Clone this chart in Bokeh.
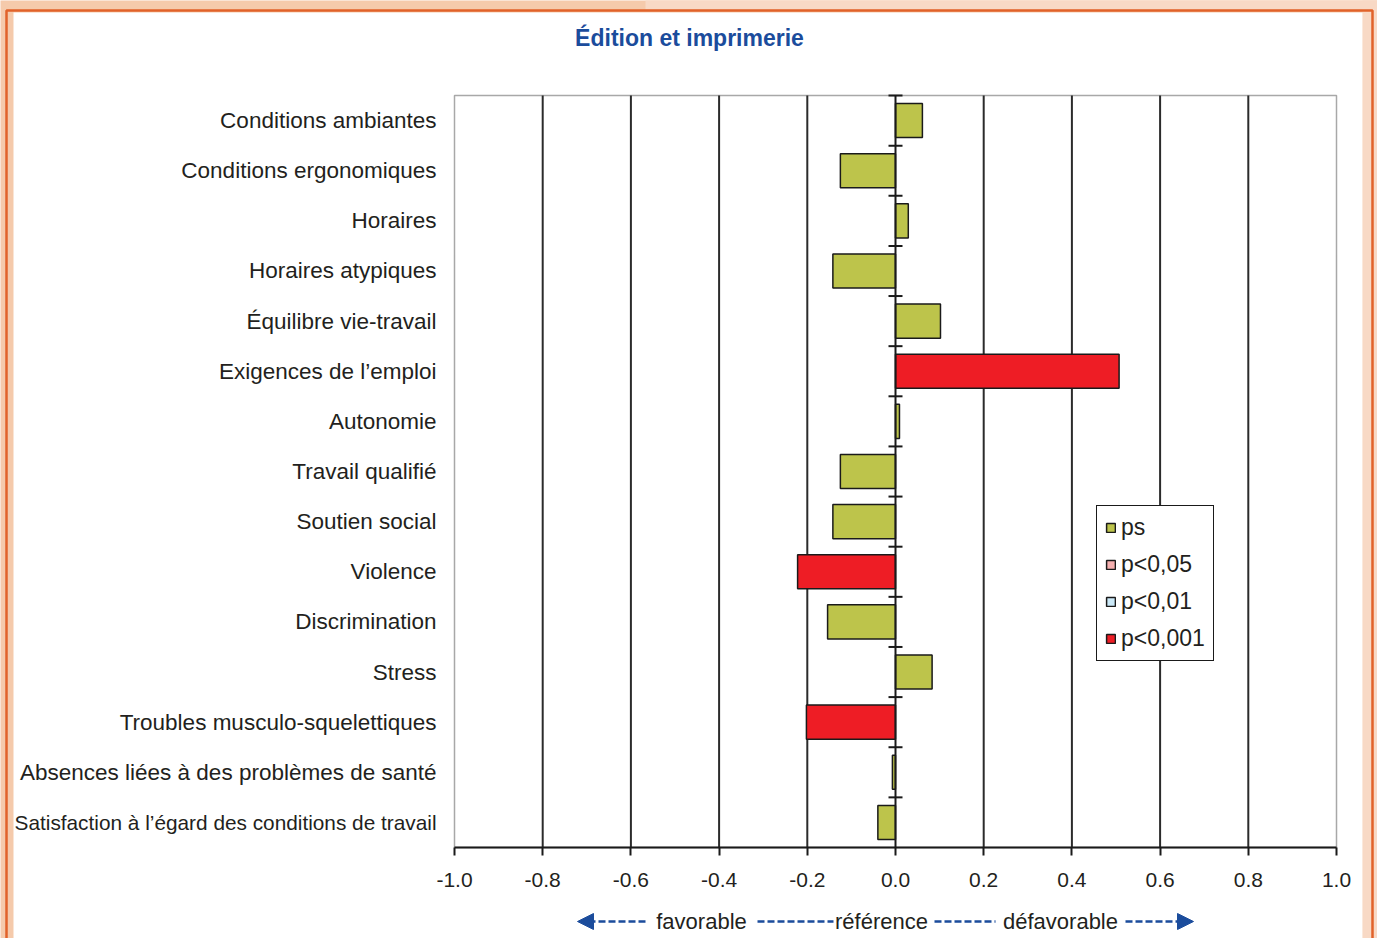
from bokeh.plotting import figure
from bokeh.models import (ColumnDataSource, FixedTicker, Legend, LegendItem,
                          Arrow, NormalHead, Range1d)
from bokeh.core.properties import value
from bokeh.embed import file_html
from bokeh.resources import INLINE

# ---------------- data ----------------
categories = [
    "Conditions ambiantes",
    "Conditions ergonomiques",
    "Horaires",
    "Horaires atypiques",
    "Équilibre vie-travail",
    "Exigences de l’emploi",
    "Autonomie",
    "Travail qualifié",
    "Soutien social",
    "Violence",
    "Discrimination",
    "Stress",
    "Troubles musculo-squelettiques",
    "Absences liées à des problèmes de santé",
    "Satisfaction à l’égard des conditions de travail",
]
values = [0.061, -0.125, 0.029, -0.142, 0.102, 0.507, 0.009, -0.125, -0.142,
          -0.222, -0.154, 0.083, -0.202, -0.007, -0.040]
significance = ["ps", "ps", "ps", "ps", "ps", "p<0,001", "ps", "ps", "ps",
                "p<0,001", "ps", "ps", "p<0,001", "ps", "ps"]
legend_labels = ["ps", "p<0,05", "p<0,01", "p<0,001"]
legend_colors = ["#BDC44B", "#F6B0B0", "#CBE9F8", "#EE1D25"]
x_ticks = [-1.0, -0.8, -0.6, -0.4, -0.2, 0.0, 0.2, 0.4, 0.6, 0.8, 1.0]
x_tick_labels = ["-1.0", "-0.8", "-0.6", "-0.4", "-0.2", "0.0", "0.2", "0.4", "0.6", "0.8", "1.0"]
grid_ticks = [-0.8, -0.6, -0.4, -0.2, 0.2, 0.4, 0.6, 0.8]
title_text = "Édition et imprimerie"
direction_texts = ["favorable", "référence", "défavorable"]

# ---------------- layout / style constants ----------------
FONT = "Liberation Sans"
TXT = "#231F20"
BLUE = "#1B4C9C"
PEACH = "#F5CAAB"
PEACH_LIGHT = "#F8D9C5"
ORANGE = "#E1622A"
W, H = 1377, 938
X0_PX, PX_PER_X = 895, 441.0        # screen x of value 0, pixels per unit
Y0_PX, PX_PER_Y = 847, 752 / 15.0    # screen y of the category-axis bottom, pixels per row

def dx(px):
    return (px - X0_PX) / PX_PER_X

def dy(py):
    return (Y0_PX - py) / PX_PER_Y

n = len(categories)
y_pos = [n - i - 0.5 for i in range(n)]

p = figure(width=W, height=H,
           x_range=Range1d(dx(0), dx(W)), y_range=Range1d(dy(H), dy(0)),
           min_border=0, x_axis_location="below", y_axis_location=None,
           toolbar_location=None, output_backend="svg",
           border_fill_color=PEACH, background_fill_color=PEACH,
           outline_line_color=None)

# page background: lighter peach on the right, white card, orange frame
p.quad(left=[dx(645), dx(1362)], right=[dx(W + 20)] * 2, top=[dy(-20), dy(-20)],
       bottom=[dy(9), dy(H + 20)], fill_color=PEACH_LIGHT, line_color=None, level="image")
p.quad(left=[dx(13)], right=[dx(1362)], top=[dy(12)], bottom=[dy(H + 20)],
       fill_color="white", line_color=None, level="image")
p.quad(left=[dx(6)], right=[dx(1372)], top=[dy(10)], bottom=[dy(H + 20)],
       fill_alpha=0, line_color=ORANGE, line_width=2.5, level="image")
# plot-area frame
p.quad(left=[-1.0], right=[1.0], bottom=[0], top=[n], fill_color="white",
       line_color="#A8A8A8", line_width=1.5, level="image")

# vertical grid lines, limited to the plot area
p.xgrid.visible = False
p.ygrid.visible = False
p.segment(x0=grid_ticks, x1=grid_ticks, y0=[0] * len(grid_ticks), y1=[n] * len(grid_ticks),
          line_color="#2B2B2B", line_width=2)

# x axis (fixed at bottom of the category area)
ax = p.xaxis[0]
ax.fixed_location = 0
ax.bounds = (-1.0, 1.0)
ax.ticker = FixedTicker(ticks=x_ticks)
ax.major_label_overrides = {t: l for t, l in zip(x_ticks, x_tick_labels)}
ax.axis_line_color = "#1A1A1A"
ax.axis_line_width = 2
ax.major_tick_line_color = "#1A1A1A"
ax.major_tick_line_width = 2
ax.major_tick_in = 0
ax.major_tick_out = 8
ax.minor_tick_line_color = None
ax.major_label_text_font = FONT
ax.major_label_text_font_size = "21px"
ax.major_label_text_color = TXT
ax.major_label_standoff = 17

# bars
for lab, col in zip(legend_labels, legend_colors):
    idx = [i for i, s in enumerate(significance) if s == lab]
    if not idx:
        continue
    src = ColumnDataSource(dict(y=[y_pos[i] for i in idx], right=[values[i] for i in idx]))
    p.hbar(y="y", left=0, right="right", height=0.68, source=src,
           fill_color=col, line_color="#1A1A1A", line_width=1.5)

# invisible renderers used only for the legend swatches
all_src = ColumnDataSource(dict(y=y_pos, right=values))
legend_renderers = []
for lab, col in zip(legend_labels, legend_colors):
    r = p.hbar(y="y", left=0, right="right", height=0.68, source=all_src,
               fill_color=col, line_color="#1A1A1A", line_width=1.5)
    r.visible = False
    legend_renderers.append(r)

# zero line with row separators
p.segment(x0=[0], x1=[0], y0=[0], y1=[n], line_color="#1A1A1A", line_width=2)
bounds = list(range(1, n + 1))
p.segment(x0=[-7 / PX_PER_X] * n, x1=[7 / PX_PER_X] * n, y0=bounds, y1=bounds,
          line_color="#1A1A1A", line_width=2)

# category labels
lab_src = ColumnDataSource(dict(
    x=[dx(436)] * n, y=y_pos, text=categories,
    fs=["20.8px" if len(c) > 45 else "22.5px" for c in categories]))
p.text(x="x", y="y", text="text", source=lab_src, text_align="right",
       text_baseline="middle", text_font=value(FONT), text_font_size="fs",
       text_color=TXT)

# title
p.text(x=[dx(689)], y=[dy(37)], text=[title_text], text_align="center",
       text_baseline="middle", text_font=value(FONT), text_font_size="23px",
       text_font_style="bold", text_color=BLUE)

# direction annotations below axis
yb = dy(921)
p.text(x=[dx(701), dx(881), dx(1060)], y=[yb] * 3, text=direction_texts,
       text_align="center", text_baseline="middle", text_font=value(FONT),
       text_font_size="22px", text_color=TXT)
p.add_layout(Arrow(x_start=dx(645), y_start=yb, x_end=dx(577), y_end=yb,
                   line_color=BLUE, line_width=2.5, line_dash="7 3",
                   end=NormalHead(size=16, fill_color=BLUE, line_color=BLUE)))
p.add_layout(Arrow(x_start=dx(1125), y_start=yb, x_end=dx(1193), y_end=yb,
                   line_color=BLUE, line_width=2.5, line_dash="7 3",
                   end=NormalHead(size=16, fill_color=BLUE, line_color=BLUE)))
for a, b in [(757, 833), (934, 995)]:
    p.add_layout(Arrow(x_start=dx(a), y_start=yb, x_end=dx(b), y_end=yb, end=None,
                       line_color=BLUE, line_width=2.5, line_dash="7 3"))

# legend
legend = Legend(items=[LegendItem(label=lab, renderers=[r])
                       for lab, r in zip(legend_labels, legend_renderers)],
                location=(1096, H - 661), border_line_color="#1A1A1A",
                border_line_width=1.5, border_line_alpha=1.0,
                background_fill_color="white", background_fill_alpha=1,
                label_text_font=FONT, label_text_font_size="23px", label_text_color=TXT,
                glyph_width=11, glyph_height=11, label_standoff=5, spacing=10,
                padding=8, margin=0)
p.add_layout(legend)

open("out.html", "w").write(file_html(p, INLINE))
